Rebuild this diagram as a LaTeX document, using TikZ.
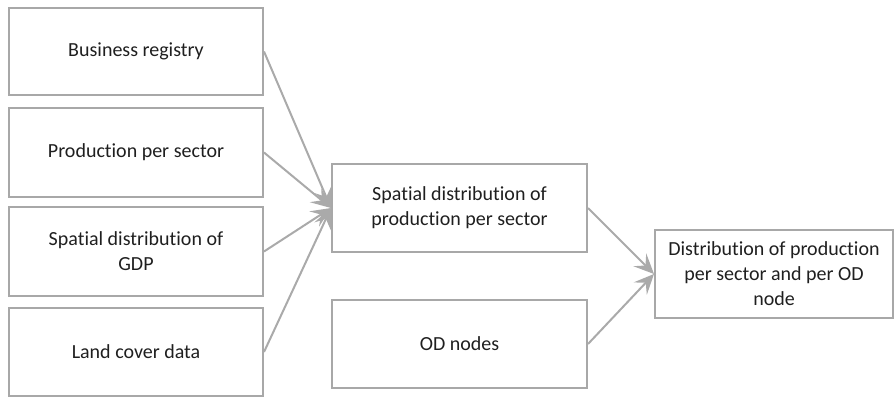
\documentclass[tikz,border=0pt]{standalone}
\usepackage{fontspec}
\setmainfont[Ligatures=NoCommon]{Carlito}
\usetikzlibrary{arrows.meta}

\definecolor{boxgray}{RGB}{168,168,168}
\definecolor{arrowgray}{RGB}{170,170,170}

\tikzset{
	databox/.style={draw=boxgray, line width=2pt, align=center, inner sep=0pt,
		font=\fontsize{20}{25}\selectfont, text=black!88},
	flow/.style={draw=arrowgray, line width=2pt,
		-{Stealth[length=20pt, width=18pt, inset=8pt]}}
}

\begin{document}
\begin{tikzpicture}[x=1pt, y=-1pt]
	\useasboundingbox (0,0) rectangle (896,397);
	% inputs
	\node[databox, minimum width=254pt, minimum height=87pt] (busreg) at (136,51.5) {Business registry};
	\node[databox, minimum width=254pt, minimum height=89pt] (prodsec) at (136,152.5) {Production per sector};
	\node[databox, minimum width=254pt, minimum height=89pt] (gdp) at (136,251.5) {Spatial distribution of\\GDP};
	\node[databox, minimum width=254pt, minimum height=88pt] (landcov) at (136,352) {Land cover data};
	% middle column
	\node[databox, minimum width=255pt, minimum height=88pt] (spatprod) at (459.5,208) {Spatial distribution of\\production per sector};
	\node[databox, minimum width=255pt, minimum height=88pt] (odnodes) at (459.5,344) {OD nodes};
	% result
	\node[databox, minimum width=238pt, minimum height=88pt] (result) at (774,274) {Distribution of production\\per sector and per OD\\node};
	\foreach \src in {busreg,prodsec,gdp,landcov}
		\draw[flow] (\src.east) -- (spatprod.west);
	\draw[flow] (spatprod.east) -- (result.west);
	\draw[flow] (odnodes.east) -- (result.west);
\end{tikzpicture}
\end{document}
